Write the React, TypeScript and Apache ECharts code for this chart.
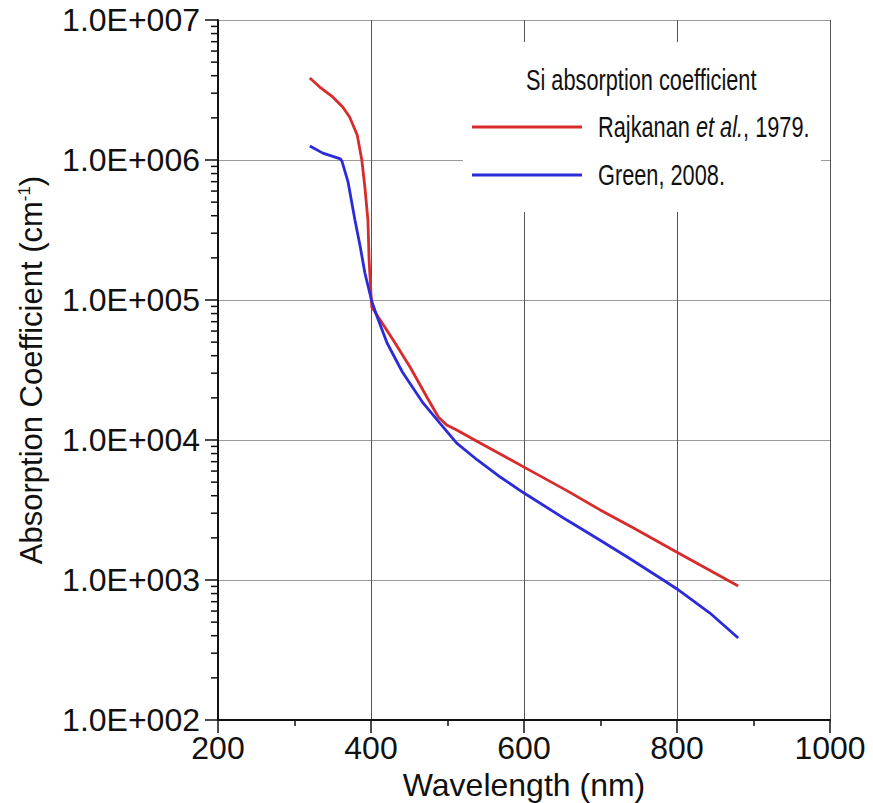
import React, { useEffect, useRef } from "react";
import * as echarts from "echarts";

// Rajkanan et al., 1979 (wavelength nm, absorption cm^-1)
const wavelengthsRajkanan = [320, 333, 350, 363, 372, 382, 388, 392, 396, 397.5, 399, 401, 412, 429, 451, 473, 488, 499, 512, 539, 582, 600, 656, 699, 742, 800, 880];
const alphaRajkanan = [3.85e6, 3.32e6, 2.82e6, 2.39e6, 2.03e6, 1.51e6, 1.0e6, 6.4e5, 3.7e5, 1.93e5, 1.39e5, 8.9e4, 7.2e4, 5.18e4, 3.32e4, 2.03e4, 1.46e4, 1.28e4, 1.18e4, 9.75e3, 7.25e3, 6.4e3, 4.35e3, 3.18e3, 2.37e3, 1.58e3, 906];

// Green, 2008
const wavelengthsGreen = [320, 337, 360, 362, 370, 379, 386, 392, 401, 408, 421, 441, 468, 490, 512, 539, 569, 600, 656, 699, 735, 782, 800, 843, 880];
const alphaGreen = [1.26e6, 1.12e6, 1.02e6, 9.8e5, 6.97e5, 3.73e5, 2.39e5, 1.56e5, 9.8e4, 7.6e4, 4.93e4, 3.06e4, 1.84e4, 1.32e4, 9.5e3, 7.2e3, 5.44e3, 4.18e3, 2.68e3, 1.93e3, 1.46e3, 1.0e3, 863, 581, 385];

const seriesNames = ["Rajkanan et al., 1979.", "Green, 2008."];
const legendTitle = "Si absorption coefficient";

const xMin = 200;
const xMax = 1000;
const xInterval = 200;
const yMin = 1e2;
const yMax = 1e7;
// minor ticks of the log axis: 2..9 x 10^k
const yMinorTicks: number[] = [];
for (let k = 2; k < 7; k++) {
  for (let m = 2; m <= 9; m++) yMinorTicks.push(m * Math.pow(10, k));
}

const FONT = "'Liberation Sans', Arial, sans-serif";

export default function App() {
  const ref = useRef<HTMLDivElement>(null);
  useEffect(() => {
    if (!ref.current) return;
    const chart = echarts.init(ref.current, undefined, { renderer: "svg" });
    const red = "#d92b2b";
    const blue = "#2b2bd9";
    const legendFont = 29;
    const legendScale = 0.75;
    const option: any = {
      animation: false,
      backgroundColor: "#ffffff",
      grid: { left: 218, right: 43, top: 20, bottom: 83, containLabel: false, outerBoundsMode: "none" },
      xAxis: {
        type: "value",
        min: xMin,
        max: xMax,
        interval: xInterval,
        name: "Wavelength (nm)",
        nameLocation: "middle",
        nameGap: 40,
        nameTextStyle: { fontFamily: FONT, fontSize: 32, color: "#111" },
        axisLine: { show: true, lineStyle: { color: "#111", width: 2 } },
        axisTick: { show: true, inside: false, length: 13, lineStyle: { color: "#111", width: 1.5 } },
        minorTick: { show: true, splitNumber: 2, length: 6, lineStyle: { color: "#111", width: 1.5 } },
        axisLabel: {
          fontFamily: FONT,
          fontSize: 32,
          color: "#111",
          margin: 12,
          formatter: (v: number) => String(v),
        },
        splitLine: { show: true, lineStyle: { color: "#555", width: 1 } },
      },
      yAxis: {
        type: "log",
        logBase: 10,
        min: yMin,
        max: yMax,
        name: "Absorption Coefficient (cm{sup|-1})",
        nameLocation: "middle",
        nameGap: 171,
        nameTextStyle: {
          fontFamily: FONT,
          fontSize: 31,
          color: "#111",
          rich: { sup: { fontFamily: FONT, fontSize: 17, color: "#111", verticalAlign: "top", padding: [0, 0, 14, 0] } },
        },
        axisLine: { show: true, lineStyle: { color: "#111", width: 2 } },
        axisTick: { show: true, inside: false, length: 13, lineStyle: { color: "#111", width: 1.5 } },
        axisLabel: {
          fontFamily: FONT,
          fontSize: 32,
          color: "#111",
          margin: 18,
          formatter: (v: number) => {
            const e = Math.round(Math.log10(v));
            return "1.0E+" + String(e).padStart(3, "0");
          },
        },
        splitLine: { show: true, lineStyle: { color: "#9a9a9a", width: 1 } },
      },
      graphic: [
        {
          type: "rect",
          z: 1,
          shape: { x: 463, y: 42, width: 358, height: 170 },
          style: { fill: "#ffffff" },
          silent: true,
        },
        {
          type: "text",
          z: 6,
          x: 526,
          y: 80,
          scaleX: legendScale,
          style: {
            text: legendTitle,
            fontFamily: FONT,
            fontSize: legendFont,
            fill: "#111",
            verticalAlign: "middle",
            align: "left",
          },
        },
        {
          type: "line",
          z: 6,
          shape: { x1: 472, y1: 127, x2: 582, y2: 127 },
          style: { stroke: red, lineWidth: 3 },
        },
        {
          type: "text",
          z: 6,
          x: 598,
          y: 127,
          scaleX: legendScale,
          style: {
            text: "Rajkanan {i|et al.}, 1979.",
            fontFamily: FONT,
            fontSize: legendFont,
            fill: "#111",
            verticalAlign: "middle",
            align: "left",
            rich: { i: { fontFamily: FONT, fontSize: legendFont, fontStyle: "italic", fill: "#111" } },
          },
        },
        {
          type: "line",
          z: 6,
          shape: { x1: 472, y1: 175, x2: 582, y2: 175 },
          style: { stroke: blue, lineWidth: 3 },
        },
        {
          type: "text",
          z: 6,
          x: 598,
          y: 175,
          scaleX: legendScale,
          style: {
            text: seriesNames[1],
            fontFamily: FONT,
            fontSize: legendFont,
            fill: "#111",
            verticalAlign: "middle",
            align: "left",
          },
        },
      ],
      series: [
        {
          name: seriesNames[0],
          type: "line",
          data: wavelengthsRajkanan.map((w, i) => [w, alphaRajkanan[i]]),
          showSymbol: false,
          lineStyle: { color: red, width: 2.8 },
          itemStyle: { color: red },
          z: 3,
        },
        {
          name: seriesNames[1],
          type: "line",
          data: wavelengthsGreen.map((w, i) => [w, alphaGreen[i]]),
          showSymbol: false,
          lineStyle: { color: blue, width: 2.8 },
          itemStyle: { color: blue },
          z: 3,
        },
        {
          name: "yMinorTicks",
          type: "custom",
          silent: true,
          clip: false,
          z: 4,
          data: yMinorTicks.map((v) => [xMin, v]),
          renderItem: (_params: any, api: any) => {
            const p = api.coord([api.value(0), api.value(1)]);
            return {
              type: "line",
              shape: { x1: p[0] - 7, y1: p[1], x2: p[0], y2: p[1] },
              style: { stroke: "#111", lineWidth: 1.5 },
            };
          },
        },
      ],
    };
    chart.setOption(option);
    return () => chart.dispose();
  }, []);
  return (
    <div
      ref={ref}
      style={{ position: "fixed", left: 0, top: 0, width: 873, height: 803, background: "#fff" }}
    />
  );
}
